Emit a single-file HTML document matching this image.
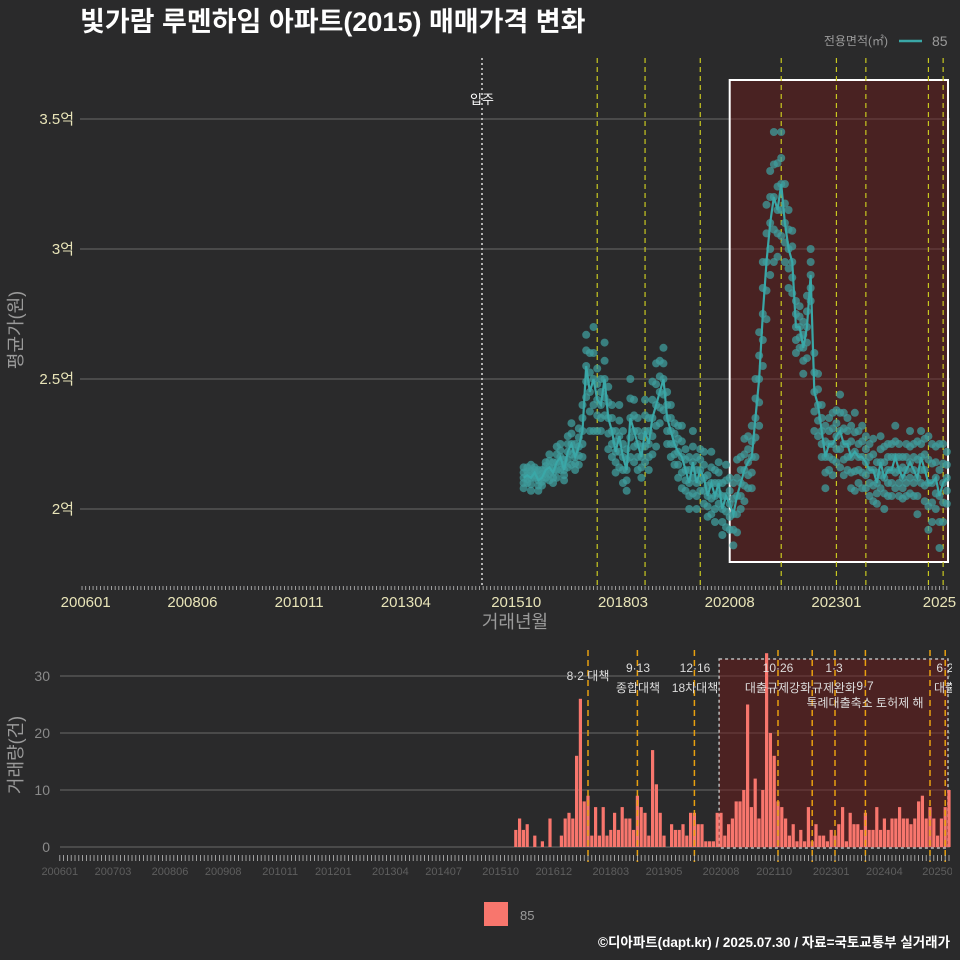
<!DOCTYPE html>
<html><head><meta charset="utf-8">
<style>
html,body{margin:0;padding:0;background:#2a2a2b;}
svg{display:block;font-family:"Liberation Sans","Noto Sans CJK KR",sans-serif;}
</style></head>
<body>
<svg id="chart" width="960" height="960" viewBox="0 0 960 960">
<rect x="0" y="0" width="960" height="960" fill="#2a2a2b"/>
<text x="80" y="31" fill="#ffffff" font-size="27" font-weight="bold">빛가람 루멘하임 아파트(2015) 매매가격 변화</text>
<g>
<text x="888" y="45" fill="#9a9a9a" font-size="12" text-anchor="end">전용면적(㎡)</text>
<line x1="899" y1="41" x2="922" y2="41" stroke="#3aa7a7" stroke-width="2.5"/>
<text x="932" y="46" fill="#9a9a9a" font-size="14">85</text>
</g>
<g id="topPanel"></g>
<g id="bottomPanel"></g>
<g>
<rect x="484" y="902" width="24" height="24" fill="#f8766d"/>
<text x="520" y="920" fill="#9a9a9a" font-size="13">85</text>
</g>
<text x="950" y="947" fill="#ffffff" font-size="13.5" font-weight="bold" text-anchor="end">©디아파트(dapt.kr) / 2025.07.30 / 자료=국토교통부 실거래가</text>
</svg>
<script>
// ---- data ----
const startMonth = 119; // months since 2006-01 for first price entry
const avgPrice = [2.12,2.13,2.12,2.14,2.11,2.12,2.15,2.16,2.14,2.18,2.2,2.15,2.22,2.25,2.2,2.24,2.3,2.55,2.45,2.5,2.42,2.4,2.5,2.35,2.3,2.22,2.28,2.2,2.15,2.35,2.3,2.25,2.2,2.3,2.25,2.35,2.4,2.45,2.5,2.35,2.3,2.25,2.22,2.2,2.15,2.1,2.18,2.1,2.15,2.12,2.05,2.1,2.05,2.1,2.0,2.05,2.02,1.98,2.05,2.1,2.15,2.18,2.2,2.35,2.5,2.75,2.95,3.1,3.2,3.15,3.25,3.1,3.0,2.95,2.7,2.7,2.62,2.7,2.9,2.45,2.4,2.3,2.2,2.25,2.25,2.28,2.3,2.25,2.25,2.2,2.22,2.2,2.2,2.18,2.15,2.15,2.1,2.18,2.12,2.15,2.15,2.2,2.15,2.12,2.15,2.18,2.15,2.12,2.2,2.15,2.1,2.1,2.12,2.05,2.1,2.12];
const priceSpread = [0.04,0.03,0.05,0.02,0.04,0.03,0.03,0.05,0.04,0.06,0.05,0.04,0.06,0.08,0.05,0.07,0.1,0.12,0.15,0.2,0.12,0.1,0.14,0.12,0.1,0.08,0.12,0.1,0.08,0.15,0.12,0.1,0.08,0.12,0.1,0.14,0.16,0.12,0.12,0.1,0.1,0.08,0.1,0.12,0.08,0.1,0.12,0.1,0.08,0.1,0.08,0.12,0.1,0.08,0.1,0.12,0.1,0.12,0.14,0.1,0.12,0.1,0.12,0.15,0.18,0.2,0.22,0.2,0.25,0.18,0.2,0.15,0.15,0.12,0.1,0.08,0.1,0.12,0.1,0.15,0.12,0.1,0.12,0.1,0.12,0.1,0.14,0.12,0.1,0.12,0.15,0.1,0.12,0.1,0.1,0.12,0.08,0.1,0.12,0.1,0.1,0.12,0.1,0.08,0.1,0.12,0.1,0.14,0.1,0.12,0.18,0.15,0.12,0.2,0.15,0.1];
const yTicks = [2,2.5,3,3.5];
const yTickLabels = ["2억","2.5억","3억","3.5억"];
const xTickMonths = [0,29,58,87,117,146,175,204,232];
const xTickLabels = ["200601","200806","201011","201304","201510","201803","202008","202301","2025"];
const topEventMonths = [139,152,167,189,204,212,229,233];
const volStart = 120;
const volumes = [3,5,3,4,0,2,0,1,0,5,0,0,2,5,6,5,16,26,8,9,2,7,2,7,2,3,6,3,7,5,5,3,9,7,6,2,17,11,6,2,0,4,3,3,4,2,6,6,4,4,1,1,1,6,6,2,4,5,8,8,10,25,7,12,5,10,34,20,16,8,7,5,2,4,1,3,1,7,1,4,2,2,1,3,2,4,7,1,6,4,4,3,6,3,3,7,3,5,3,5,5,7,5,5,4,5,8,9,5,7,5,2,5,7,10];
const volTicks = [0,10,20,30];
const volXTickMonths = [0,14,29,43,58,72,87,101,116,130,145,159,174,188,203,217,231];
const volXTickLabels = ["200601","200703","200806","200908","201011","201201","201304","201407","201510","201612","201803","201905","202008","202110","202301","202404","20250"];
const bottomEventMonths = [139,152,167,189,198,204,212,229,233];
const eventNames = [["8·2 대책",""],["9·13","종합대책"],["12·16","18차대책"],["10·26","대출규제강화"],["1·3","규제완화"],["9·7","특례대출축소 토허제 해"],["6·2","대출"]];
const eventLabelPos = [[588,680,null],[638,672,692],[695,672,692],[778,672,692],[834,672,692],[865,690,707],[945,672,692]];

// ---- helpers ----
const NS="http://www.w3.org/2000/svg";
function mk(tag,attrs,parent){const e=document.createElementNS(NS,tag);for(const k in attrs)e.setAttribute(k,attrs[k]);parent.appendChild(e);return e;}
const tx = m => 85.7 + 3.68*m;
const ty = p => 509 - (p-2)*260;
const bx = m => 59.8 + 3.8*m;
const by = v => 847 - v*5.7;

// ---- top panel ----
const topG=document.getElementById('topPanel');
yTicks.forEach((t,i)=>{
  const l=mk('line',{x1:80,x2:950,y1:ty(t),y2:ty(t),stroke:'#6a6a6a','stroke-width':1},topG);
  
  
  const tt=mk('text',{x:74,y:ty(t)+5,fill:'#e8e4b8','font-size':15,'text-anchor':'end'},topG);
  tt.textContent=yTickLabels[i];
  
  
});
const box=mk('rect',{x:tx(175),y:80,width:948-tx(175),height:482,fill:'rgba(110,25,25,0.45)',stroke:'#ffffff','stroke-width':2},topG);


topEventMonths.forEach(m=>{
  const l=mk('line',{x1:tx(m),x2:tx(m),y1:58,y2:585,stroke:'#c8c820','stroke-width':1.2,'stroke-dasharray':'5,4'},topG);
  
  
});
const mv=mk('line',{x1:482,x2:482,y1:58,y2:585,stroke:'#dddddd','stroke-width':1.5,'stroke-dasharray':'2,3'},topG);


const mvt=mk('text',{x:482,y:104,fill:'#ffffff','font-size':13,'text-anchor':'middle'},topG);
mvt.textContent='입주';


avgPrice.forEach((p,i)=>{
  const m=startMonth+i, d=priceSpread[i];
  [p-d,p-d/2,p,p+d/2,p+d].forEach(v=>{
    const c=mk('circle',{cx:tx(m),cy:ty(v),r:4,fill:'#3f9c9c','fill-opacity':0.75},topG);
    
    
  });
});
const pl=mk('polyline',{points:avgPrice.map((p,i)=>tx(startMonth+i)+','+ty(p)).join(' '),fill:'none',stroke:'#3aa7a7','stroke-width':2.2},topG);


for(let m=-1;m<=234;m++){
  const k=mk('line',{x1:tx(m),x2:tx(m),y1:586,y2:590,stroke:'#bbbbbb','stroke-width':0.8},topG);
  
  
}
xTickMonths.forEach((m,i)=>{
  const t=mk('text',{x:Math.min(tx(m),940),y:607,fill:'#e8e4b8','font-size':15,'text-anchor':'middle'},topG);
  t.textContent=xTickLabels[i];
  
  
});
const xt=mk('text',{x:515,y:628,fill:'#9a9a9a','font-size':18,'text-anchor':'middle'},topG);
xt.textContent='거래년월';


const yt=mk('text',{x:22,y:330,fill:'#9a9a9a','font-size':18,'text-anchor':'middle',transform:'rotate(-90 22 330)'},topG);
yt.textContent='평균가(원)';



// ---- bottom panel ----
const botG=document.getElementById('bottomPanel');
volTicks.forEach(t=>{
  const l=mk('line',{x1:60,x2:950,y1:by(t),y2:by(t),stroke:'#6a6a6a','stroke-width':1},botG);
  
  
  const tt=mk('text',{x:50,y:by(t)+5,fill:'#8a8a8a','font-size':14,'text-anchor':'end'},botG);
  tt.textContent=String(t);
  
  
});
const vb=mk('rect',{x:bx(173.5),y:659,width:948-bx(173.5),height:189,fill:'rgba(110,25,25,0.5)',stroke:'#bbbbbb','stroke-width':1.5,'stroke-dasharray':'3,3'},botG);


volumes.forEach((v,i)=>{
  if(!v)return;
  const m=volStart+i;
  const r=mk('rect',{x:bx(m)-1.6,y:by(v),width:3.2,height:v*5.7,fill:'#f8766d'},botG);
  
  
});
bottomEventMonths.forEach(m=>{
  const l=mk('line',{x1:bx(m),x2:bx(m),y1:650,y2:862,stroke:'#e8a010','stroke-width':1.5,'stroke-dasharray':'6,4'},botG);
  
  
});
eventNames.forEach((n,i)=>{
  const p=eventLabelPos[i];
  const a=mk('text',{x:p[0],y:p[1],fill:'#dddddd','font-size':12,'text-anchor':'middle'},botG);
  a.textContent=n[0];
  
  
  if(n[1]){
    const b=mk('text',{x:p[0],y:p[2],fill:'#dddddd','font-size':12,'text-anchor':'middle'},botG);
    b.textContent=n[1];
    
    
  }
});
for(let m=0;m<=234;m++){
  const k=mk('line',{x1:bx(m),x2:bx(m),y1:855,y2:861,stroke:'#bbbbbb','stroke-width':0.8},botG);
  
  
}
volXTickMonths.forEach((m,i)=>{
  const t=mk('text',{x:Math.min(bx(m),940),y:875,fill:'#5e5e5e','font-size':11,'text-anchor':'middle'},botG);
  t.textContent=volXTickLabels[i];
  
  
});
const vyt=mk('text',{x:22,y:755,fill:'#9a9a9a','font-size':18,'text-anchor':'middle',transform:'rotate(-90 22 755)'},botG);
vyt.textContent='거래량(건)';


const cover=mk('rect',{x:952,y:640,width:8,height:240,fill:'#2a2a2b'},botG);


</script>
</body></html>
